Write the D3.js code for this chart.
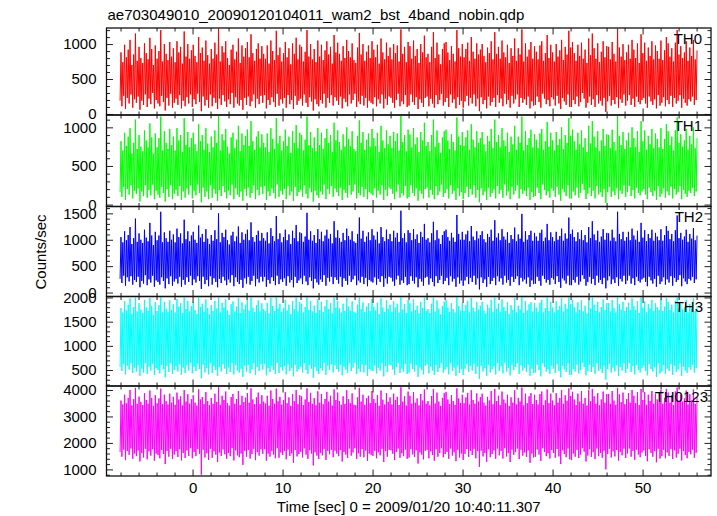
<!DOCTYPE html>
<html><head><meta charset="utf-8">
<script src="https://cdn.jsdelivr.net/npm/d3@7"></script>
<style>
body{margin:0;background:#fff}
svg{display:block}
text{font-family:"Liberation Sans",Arial,Helvetica,sans-serif;fill:#000}
</style>
</head><body>
<svg id="chart" width="717" height="516"></svg>
<script>
const title = "ae703049010_20090120104011_wam2_bst_4band_nobin.qdp";
const xLabel = "Time [sec] 0 = 2009/01/20 10:40:11.307";
const yLabel = "Counts/sec";
const bandNames = ["TH0","TH1","TH2","TH3","TH0123"];
const bandColors = ["#ff0000","#00ff00","#0000ff","#00ffff","#ff00ff"];
const binFirst = -8.05, binLast = 56.05;
const xDomain = [-9.56, 57.6];
const xTicks = [0,10,20,30,40,50];
const yTicks = [[0,500,1000],[0,500,1000],[0,500,1000,1500],[500,1000,1500,2000],[1000,2000,3000,4000]];
const yMinorStep = [100,100,100,100,200];
const yDomains = [[-15,1230],[-25,1160],[-75,1630],[170,2020],[750,4150]];

const th0 = [
190,880,110,740,260,990,70,810,230,920,150,1060,280,700,90,850,210,1150,160,760,
250,960,60,800,190,730,130,1010,280,870,100,780,220,1090,140,930,300,700,80,980,
200,790,150,900,110,1200,260,750,170,1000,50,860,230,770,120,1030,290,820,90,940,
160,740,220,1040,130,880,270,960,80,720,190,1180,110,820,240,1000,150,790,280,910,
100,990,210,830,140,740,290,1100,170,870,40,950,250,760,120,1050,200,840,90,720,
280,930,110,790,230,1020,160,850,70,1220,220,750,130,970,270,880,180,1040,100,800,
210,700,140,920,300,990,90,780,240,890,150,1080,120,730,200,980,60,820,230,940,
130,1030,250,810,110,1140,180,870,280,760,90,930,220,1010,140,790,260,970,160,860,
270,790,80,980,200,720,130,1050,240,900,170,770,100,1190,290,840,120,950,210,750,
150,870,230,1030,90,810,270,940,140,710,200,1010,70,860,260,1090,130,780,190,990,
220,960,120,750,280,890,160,1200,100,820,240,1000,180,780,50,930,210,740,140,1050,
110,820,200,990,150,770,290,910,90,1040,230,850,160,960,270,720,120,1130,240,880,
190,1020,130,860,250,760,80,970,220,800,170,1060,110,900,280,810,150,1010,200,770,
290,730,100,950,180,1160,140,850,260,1000,120,760,230,890,90,980,190,800,160,1040,
140,920,240,810,110,990,210,720,150,1080,280,880,80,780,220,1020,130,830,250,950,
230,780,160,1000,90,870,200,980,290,750,110,1210,180,860,140,960,270,740,100,1030,
120,970,280,790,170,1050,130,830,240,930,70,730,210,1000,160,880,100,1120,230,810,
250,860,110,740,220,960,150,1170,90,800,270,1020,140,850,200,710,290,930,120,1010,
170,1030,230,880,100,770,280,970,160,860,210,750,80,1200,240,940,130,820,190,1000,
90,810,180,930,260,1020,120,760,230,1100,150,890,280,790,110,1010,220,850,40,920,
240,1000,140,830,200,740,80,950,250,870,120,1040,170,780,230,1170,100,860,270,960,
160,790,220,1050,110,880,290,810,140,990,200,730,90,940,260,830,150,1080,210,760,
280,940,100,850,230,1210,160,750,210,1010,130,820,250,920,80,1030,180,790,120,970,
130,890,250,780,170,980,90,1040,290,760,220,870,140,1130,200,800,110,990,240,880,
210,750,120,1000,260,820,150,910,70,1060,230,770,180,960,130,850,280,1190,100,950,
100,1030,200,870,140,760,250,990,110,830,170,1020,300,790,220,920,90,730,160,1080,
250,840,130,1150,210,940,100,790,270,1010,150,740,190,890,120,1040,230,810,30,970,
180,960,260,780,120,1030,200,860,140,750,240,1220,90,950,210,820,160,1000,280,770,
120,880,190,990,270,790,130,1060,220,920,100,800,250,1010,170,730,140,1140,200,870,
230,1020,150,760,90,950,250,830,180,1040,130,780,210,980,80,900,270,790,120,1050,
160,770,240,910,110,1100,200,1010,140,820,260,940,100,750,230,1020,150,1200,190,850,
270,970,90,800,220,880,160,1040,120,760,210,950,180,830,250,1060,130,780,200,910];

const th1 = [
160,820,100,700,230,930,60,760,200,880,130,990,250,660,80,800,180,1100,140,720,
210,900,40,750,170,690,110,960,250,830,90,740,190,1050,120,870,260,660,70,920,
180,740,130,860,90,1140,230,700,150,950,40,800,200,720,100,980,250,770,70,880,
140,700,190,990,110,830,240,900,60,680,170,1120,90,770,210,940,130,740,250,860,
80,930,180,780,120,690,260,1040,150,820,30,900,220,710,100,990,170,790,70,680,
250,880,90,740,200,960,140,800,50,1150,190,700,110,910,240,830,160,980,80,750,
180,660,120,870,260,930,70,730,210,840,130,1020,100,690,170,920,50,770,200,890,
110,970,220,760,90,1080,150,820,250,710,70,880,190,950,120,740,230,910,140,800,
240,740,60,920,170,680,110,990,210,850,150,720,80,1120,260,790,100,890,180,700,
130,820,200,970,70,760,240,880,120,670,170,950,50,800,230,1030,110,730,160,930,
190,900,100,700,250,840,140,1140,80,770,210,940,160,730,40,870,180,690,120,990,
90,770,170,930,130,720,260,860,70,980,200,800,140,900,240,680,100,1060,210,830,
160,960,110,810,220,710,60,910,190,750,150,1000,90,850,250,760,130,950,170,720,
260,690,80,890,150,1090,120,800,230,940,100,710,200,840,70,920,160,750,140,980,
120,860,210,760,90,930,180,680,130,1020,250,830,60,730,190,960,110,780,220,890,
200,730,140,940,70,820,170,920,260,700,90,1150,150,810,120,900,240,690,80,970,
100,910,250,740,150,990,110,780,210,870,50,680,180,940,140,830,80,1060,200,760,
220,810,90,690,190,900,130,1100,70,750,240,960,120,800,170,670,260,870,100,950,
150,970,200,830,80,720,250,910,140,810,180,700,60,1130,210,880,110,770,160,940,
70,760,150,870,230,960,100,710,200,1040,130,840,250,740,90,950,190,800,30,860,
210,940,120,780,170,690,60,890,220,820,100,980,150,730,200,1100,80,810,240,900,
140,740,190,990,90,830,260,760,120,930,170,680,70,880,230,780,130,1020,180,710,
250,880,80,800,200,1140,140,700,180,950,110,770,220,860,60,970,160,740,100,910,
110,840,220,730,150,920,70,980,260,710,190,820,120,1070,170,750,90,930,210,830,
180,700,100,940,230,770,130,850,50,1000,200,720,160,900,110,800,250,1120,80,890,
80,970,170,820,120,710,220,930,90,780,150,960,270,740,190,860,70,680,140,1020,
220,790,110,1080,180,880,80,740,240,950,130,690,160,830,100,980,200,760,20,910,
160,900,230,730,100,970,170,810,120,700,210,1150,70,890,180,770,140,940,250,720,
100,830,160,930,240,740,110,1000,190,860,80,750,220,950,150,680,120,1080,170,820,
200,960,130,710,70,890,220,780,160,980,110,730,180,920,60,850,240,740,100,990,
140,720,210,850,90,1040,170,950,120,770,230,880,80,700,200,960,130,1130,160,800,
240,910,70,750,190,830,140,980,100,710,180,890,150,780,220,1000,110,730,170,860];

const th2 = [
260,1050,180,950,320,1160,130,990,290,1090,210,1240,310,920,150,1030,240,1400,200,960,
300,1120,100,1000,220,940,170,1190,330,1040,140,970,250,1320,190,1080,320,900,110,1150,
230,990,200,1080,150,1530,290,950,220,1140,80,1030,270,960,160,1170,310,1000,130,1100,
210,950,260,1210,170,1050,300,1120,110,930,240,1380,150,1010,290,1160,200,970,320,1080,
140,1150,250,1000,190,940,310,1270,220,1040,70,1110,300,960,160,1200,240,1020,120,920,
310,1090,150,980,270,1180,200,1010,100,1500,260,950,180,1130,300,1050,230,1190,140,990,
250,910,190,1080,330,1150,120,970,290,1060,200,1250,160,940,240,1140,90,1000,270,1110,
170,1190,300,990,150,1330,220,1050,320,960,120,1090,260,1170,190,980,300,1130,210,1030,
300,980,110,1140,240,930,170,1220,290,1070,220,970,140,1450,320,1010,160,1120,250,950,
200,1050,270,1190,130,990,310,1100,190,920,240,1170,100,1030,300,1280,180,970,230,1140,
270,1120,160,960,320,1060,210,1510,140,1000,290,1160,220,980,80,1090,260,940,190,1200,
150,1010,250,1150,200,970,330,1080,130,1190,280,1020,210,1110,300,930,160,1350,290,1040,
240,1180,170,1030,300,960,110,1130,270,990,220,1210,150,1070,320,1000,200,1160,250,970,
320,940,140,1110,230,1420,190,1020,300,1170,160,960,280,1060,120,1140,240,990,210,1200,
190,1080,290,1000,150,1150,260,930,200,1240,310,1050,110,970,270,1190,170,1010,300,1110,
280,970,210,1170,130,1040,250,1130,320,960,150,1550,230,1030,180,1120,300,950,140,1180,
160,1130,310,990,220,1200,170,1010,290,1100,100,940,260,1150,210,1050,130,1300,280,1000,
300,1030,150,950,270,1120,200,1340,120,990,310,1180,180,1020,240,920,320,1090,160,1160,
220,1190,280,1050,140,980,310,1130,210,1040,260,960,110,1470,290,1110,170,1000,230,1150,
130,1000,230,1100,300,1170,160,970,280,1260,200,1060,320,990,150,1160,270,1020,60,1090,
290,1160,180,1010,250,950,110,1110,300,1050,160,1190,220,980,280,1370,140,1040,310,1120,
210,990,270,1200,150,1060,320,1000,190,1140,240,940,130,1090,300,1010,200,1230,260,970,
310,1100,140,1020,280,1490,210,960,250,1160,170,1000,290,1090,110,1170,230,980,160,1130,
170,1060,300,980,220,1130,130,1190,320,970,260,1040,190,1300,240,990,150,1140,280,1050,
250,970,160,1150,310,1000,200,1070,90,1210,270,980,230,1120,170,1020,320,1420,140,1110,
140,1190,240,1050,190,970,300,1140,150,1010,210,1180,330,990,260,1090,130,950,200,1240,
300,1030,170,1350,260,1100,140,990,320,1170,190,960,240,1060,160,1200,280,1000,80,1130,
230,1120,310,980,160,1190,250,1040,180,970,290,1530,130,1110,260,1010,210,1150,320,980,
160,1050,230,1150,320,990,170,1210,270,1080,140,1000,300,1170,220,960,190,1320,250,1040,
280,1180,200,970,120,1110,300,1030,230,1190,170,980,260,1130,110,1060,320,990,160,1200,
210,980,290,1090,150,1260,250,1170,190,1010,310,1110,130,970,280,1180,200,1460,240,1030,
330,1130,120,1000,270,1060,210,1190,160,960,260,1110,230,1020,300,1220,180,990,250,1080];

const th3 = [
560,1780,480,1690,620,1920,410,1730,590,1850,510,1980,640,1660,440,1800,550,2000,470,1710,
600,1880,380,1750,530,1680,450,1950,640,1790,420,1720,570,1990,490,1830,630,1640,400,1900,
540,1720,500,1840,430,2010,610,1690,520,1910,350,1770,590,1700,460,1940,640,1740,420,1860,
500,1690,580,1970,470,1810,620,1880,400,1680,550,2000,440,1760,600,1930,490,1710,650,1820,
430,1900,570,1740,480,1660,630,2000,520,1800,330,1870,610,1700,450,1960,540,1780,410,1650,
640,1840,440,1720,580,1930,500,1770,380,2010,560,1690,470,1890,620,1790,530,1960,420,1730,
550,1640,460,1860,650,1920,410,1710,600,1810,490,1990,450,1680,530,1900,360,1750,590,1850,
470,1950,610,1730,430,2000,520,1790,640,1700,400,1840,560,1940,480,1710,620,1880,510,1760,
630,1720,390,1890,540,1670,460,1990,590,1820,500,1720,420,2010,650,1770,440,1870,560,1700,
490,1780,580,1950,410,1730,620,1850,480,1660,540,1920,370,1760,610,2000,470,1710,520,1900,
570,1870,450,1690,640,1800,500,2010,420,1740,600,1930,530,1710,340,1830,560,1680,480,1960,
420,1740,540,1910,490,1700,650,1820,400,1950,590,1760,500,1880,620,1670,450,2000,600,1790,
520,1930,470,1770,610,1690,390,1870,570,1720,510,1990,440,1810,640,1730,480,1920,550,1700,
650,1680,420,1850,530,2000,460,1760,620,1900,450,1700,600,1810,380,1880,520,1720,490,1970,
480,1810,590,1730,430,1890,550,1660,490,1980,640,1790,370,1700,580,1940,460,1760,610,1850,
600,1700,510,1920,400,1790,560,1870,650,1690,440,2010,530,1750,470,1860,620,1680,420,1950,
450,1880,630,1710,520,1960,470,1740,600,1830,360,1670,550,1910,500,1780,410,2000,590,1720,
620,1760,430,1680,570,1870,490,2000,400,1710,610,1940,460,1770,540,1650,640,1820,450,1910,
510,1950,560,1790,410,1700,640,1880,480,1760,550,1690,380,2010,590,1820,440,1730,520,1890,
400,1720,530,1840,620,1930,460,1690,580,1990,490,1790,630,1710,420,1910,570,1750,320,1830,
590,1910,470,1730,540,1670,380,1850,610,1780,450,1950,520,1700,580,2000,410,1770,640,1870,
480,1700,580,1960,430,1800,650,1720,470,1900,540,1660,390,1840,610,1740,500,1990,560,1690,
640,1830,420,1750,600,2010,490,1680,550,1920,460,1730,610,1860,380,1900,530,1710,440,1880,
450,1790,610,1700,500,1890,370,1950,640,1690,560,1780,470,2000,520,1720,420,1910,590,1790,
530,1690,440,1920,620,1740,480,1820,350,1980,590,1710,510,1870,460,1770,640,2000,400,1860,
400,1950,520,1800,470,1690,610,1900,430,1740,500,1940,650,1710,560,1830,390,1670,480,1990,
610,1770,460,2000,560,1850,420,1720,640,1910,480,1690,530,1800,440,1960,590,1740,300,1880,
520,1880,630,1710,450,1950,550,1780,470,1690,600,2010,380,1860,560,1750,490,1910,640,1720,
440,1800,530,1890,640,1740,460,1980,580,1820,410,1740,610,1920,500,1680,450,2000,540,1790,
590,1920,480,1690,390,1860,620,1770,520,1950,470,1720,560,1880,360,1800,640,1740,430,1960,
470,1720,600,1810,420,1990,530,1910,480,1740,620,1850,400,1690,590,1930,460,2000,510,1770,
640,1870,380,1750,570,1790,490,1950,440,1690,560,1860,510,1770,610,1980,450,1720,540,1820];

const th0123 = [
1650,3600,1480,3450,1750,3820,1350,3500,1700,3700,1550,4000,1790,3420,1400,3650,1600,4080,1500,3480,
1720,3750,1300,3550,1620,3430,1450,3880,1780,3620,1380,3480,1680,3980,1520,3700,1760,3400,1330,3800,
1600,3500,1540,3680,1420,4050,1740,3460,1580,3820,1200,3580,1700,3450,1480,3860,1780,3520,1390,3740,
1560,3440,1690,3900,1470,3640,1760,3760,1340,3420,1620,4000,1430,3560,1720,3840,1510,3480,1800,3650,
1420,3800,1660,3520,1500,3410,1770,4020,1590,3640,800,3730,1740,3470,1450,3920,1610,3580,1360,3430,
1780,3700,1440,3480,1680,3860,1560,3550,1280,4100,1640,3440,1510,3780,1750,3620,1570,3940,1400,3500,
1620,3410,1500,3730,1800,3850,1340,3480,1720,3660,1530,3960,1460,3430,1600,3780,1170,3540,1700,3710,
1480,3880,1740,3520,1410,4060,1580,3640,1780,3460,1350,3720,1650,3900,1520,3470,1760,3800,1590,3560,
1760,3490,1330,3780,1600,3410,1480,3980,1700,3660,1560,3480,1420,4050,1800,3570,1440,3740,1640,3450,
1540,3620,1690,3920,1380,3500,1750,3720,1510,3400,1610,3840,1250,3580,1730,4000,1490,3460,1580,3800,
1670,3760,1450,3430,1790,3640,1560,4060,1400,3540,1720,3890,1600,3480,1150,3690,1650,3420,1520,3950,
1390,3520,1620,3850,1530,3460,1780,3660,1360,3930,1700,3560,1570,3780,1740,3410,1460,4020,1710,3620,
1600,3900,1500,3580,1730,3440,1300,3760,1660,3470,1560,3990,1430,3650,1790,3500,1520,3870,1640,3440,
1800,3420,1390,3720,1610,4080,1480,3560,1770,3820,1460,3440,1710,3690,1320,3780,1600,3500,1550,3960,
1510,3660,1700,3510,1420,3800,1640,3400,1530,3980,1780,3630,1280,3450,1690,3880,1480,3550,1740,3720,
1720,3450,1590,3860,1350,3620,1660,3740,1790,3430,1440,4100,1610,3560,1500,3760,1750,3410,1400,3940,
1450,3780,1760,3480,1570,3920,1470,3520,1720,3680,1220,3420,1640,3850,1560,3600,1380,4020,1700,3480,
1740,3580,1420,3420,1680,3770,1540,4040,1330,3490,1760,3900,1480,3560,1620,3400,1800,3700,1460,3880,
1580,3930,1660,3640,1400,3470,1790,3800,1520,3580,1650,3440,1310,4060,1740,3680,1450,3510,1600,3820,
1360,3500,1590,3720,1770,3890,1470,3450,1700,3990,1540,3620,1780,3480,1420,3870,1690,3560,1100,3730,
1710,3860,1490,3520,1620,3410,1290,3740,1760,3600,1460,3960,1580,3460,1720,4040,1400,3580,1790,3780,
1530,3430,1700,3940,1410,3640,1800,3500,1490,3820,1620,3400,1280,3720,1750,3520,1550,3990,1650,3450,
1790,3700,1390,3560,1740,4090,1520,3420,1640,3860,1470,3500,1720,3760,1250,3880,1600,3470,1450,3820,
1480,3620,1750,3450,1560,3840,1320,3940,1800,3430,1660,3610,1500,4020,1610,3500,1410,3860,1730,3600,
1620,3420,1440,3880,1770,3520,1490,3700,1200,4000,1720,3480,1580,3800,1460,3590,1790,4060,1380,3770,
1350,3930,1600,3640,1480,3430,1740,3860,1430,3560,1560,3960,1800,3480,1670,3700,1300,3410,1520,3990,
1760,3570,1470,4040,1650,3760,1390,3480,1790,3880,1500,3420,1620,3640,1440,3940,1710,3520,1000,3840,
1580,3850,1780,3480,1450,3960,1680,3600,1490,3440,1730,4080,1330,3830,1660,3540,1530,3900,1790,3460,
1430,3660,1600,3880,1790,3520,1480,4000,1700,3780,1360,3500,1750,3920,1560,3430,1460,4040,1640,3620,
1720,3920,1510,3440,1310,3820,1760,3580,1620,3960,1480,3480,1690,3860,1270,3640,1780,3540,1410,4000,
1500,3480,1740,3700,1420,4040,1640,3900,1510,3520,1770,3800,1390,3430,1720,3940,1450,4090,1590,3600,
1780,3820,1340,3560,1690,3680,1540,3980,1420,3450,1660,3840,1570,3600,1750,4020,1440,3480,1630,3740];

const series = [th0, th1, th2, th3, th0123];

// ---- layout ----
const plotLeft = 106.5, plotRight = 711;
const panelEdges = [28, 115, 206.5, 296.5, 386, 476];
const majorLen = 6.5, minorLen = 3.5;
const labelRight = [702, 702, 703, 703, 708];

const svg = d3.select("#chart");
const x = d3.scaleLinear().domain(xDomain).range([plotLeft, plotRight]);

const xMinor = d3.range(-8, 57, 2).filter(v => v % 10 !== 0);
const xMajor = d3.range(-10, 60, 10).filter(v => v >= xDomain[0] && v <= xDomain[1]);

const defs = svg.append("defs");

series.forEach((vals, p) => {
  const top = panelEdges[p], bot = panelEdges[p + 1];
  const y = d3.scaleLinear().domain(yDomains[p]).range([bot, top]);
  const n = vals.length;
  const t = d3.scaleLinear().domain([0, n - 1]).range([binFirst, binLast]);

  defs.append("clipPath").attr("id", "clip" + p)
    .append("rect").attr("x", plotLeft).attr("y", top)
    .attr("width", plotRight - plotLeft).attr("height", bot - top);

  const line = d3.line().x((d, i) => x(t(i))).y(d => y(d));
  svg.append("path")
    .datum(vals)
    .attr("clip-path", "url(#clip" + p + ")")
    .attr("d", line)
    .attr("fill", "none")
    .attr("stroke", bandColors[p])
    .attr("stroke-width", 1)
    .attr("stroke-linejoin", "miter");

  const g = svg.append("g");
  const tickStyle = sel => {
    sel.select(".domain").remove();
    sel.selectAll(".tick line").attr("stroke", "#222").attr("stroke-width", 1);
    sel.selectAll(".tick text").remove();
  };
  g.append("g").attr("transform", `translate(0,${bot})`)
    .call(d3.axisBottom(x).tickValues(xMinor).tickSizeInner(-minorLen).tickSizeOuter(0)).call(tickStyle);
  g.append("g").attr("transform", `translate(0,${bot})`)
    .call(d3.axisBottom(x).tickValues(xMajor).tickSizeInner(-majorLen).tickSizeOuter(0)).call(tickStyle);
  g.append("g").attr("transform", `translate(0,${top})`)
    .call(d3.axisTop(x).tickValues(xMinor).tickSizeInner(-minorLen).tickSizeOuter(0)).call(tickStyle);
  g.append("g").attr("transform", `translate(0,${top})`)
    .call(d3.axisTop(x).tickValues(xMajor).tickSizeInner(-majorLen).tickSizeOuter(0)).call(tickStyle);

  const step = yMinorStep[p];
  const majors = yTicks[p];
  const majStep = majors[1] - majors[0];
  const yMin = d3.range(Math.ceil(yDomains[p][0] / step) * step, yDomains[p][1], step)
    .filter(v => Math.abs(v % majStep) > 1e-6);
  const yMaj = d3.range(Math.ceil(yDomains[p][0] / majStep) * majStep, yDomains[p][1], majStep);
  g.append("g").attr("transform", `translate(${plotLeft},0)`)
    .call(d3.axisLeft(y).tickValues(yMin).tickSizeInner(-minorLen).tickSizeOuter(0)).call(tickStyle);
  g.append("g").attr("transform", `translate(${plotLeft},0)`)
    .call(d3.axisLeft(y).tickValues(yMaj).tickSizeInner(-majorLen).tickSizeOuter(0)).call(tickStyle);
  g.append("g").attr("transform", `translate(${plotRight},0)`)
    .call(d3.axisRight(y).tickValues(yMin).tickSizeInner(-minorLen).tickSizeOuter(0)).call(tickStyle);
  g.append("g").attr("transform", `translate(${plotRight},0)`)
    .call(d3.axisRight(y).tickValues(yMaj).tickSizeInner(-majorLen).tickSizeOuter(0)).call(tickStyle);

  const yl = g.append("g").attr("transform", `translate(${plotLeft},0)`)
    .call(d3.axisLeft(y).tickValues(majors).tickSize(0).tickPadding(10).tickFormat(d3.format("d")));
  yl.select(".domain").remove();
  yl.selectAll(".tick text")
    .style("font-family", '"Liberation Sans",Arial,sans-serif')
    .style("font-size", "15px").attr("fill", "#000");

  svg.append("rect").attr("x", plotLeft).attr("y", top)
    .attr("width", plotRight - plotLeft).attr("height", bot - top)
    .attr("fill", "none").attr("stroke", "#111").attr("stroke-width", 1.3);

  svg.append("text").attr("x", labelRight[p]).attr("y", top + 15.5)
    .attr("text-anchor", "end").style("font-size", "15px").text(bandNames[p]);
});

const xl = svg.append("g").attr("transform", `translate(0,${panelEdges[5]})`)
  .call(d3.axisBottom(x).tickValues(xTicks).tickSize(0).tickPadding(6).tickFormat(d3.format("d")));
xl.select(".domain").remove();
xl.selectAll(".tick text")
  .style("font-family", '"Liberation Sans",Arial,sans-serif')
  .style("font-size", "15px").attr("fill", "#000");

svg.append("text").attr("x", plotLeft + 1).attr("y", 20)
  .style("font-size", "15px").text(title);
svg.append("text").attr("x", (plotLeft + plotRight) / 2).attr("y", 512)
  .attr("text-anchor", "middle").style("font-size", "15px").text(xLabel);
svg.append("text")
  .attr("transform", `translate(46,${(panelEdges[0] + panelEdges[5]) / 2}) rotate(-90)`)
  .attr("text-anchor", "middle").style("font-size", "15px").text(yLabel);
</script>
</body></html>
